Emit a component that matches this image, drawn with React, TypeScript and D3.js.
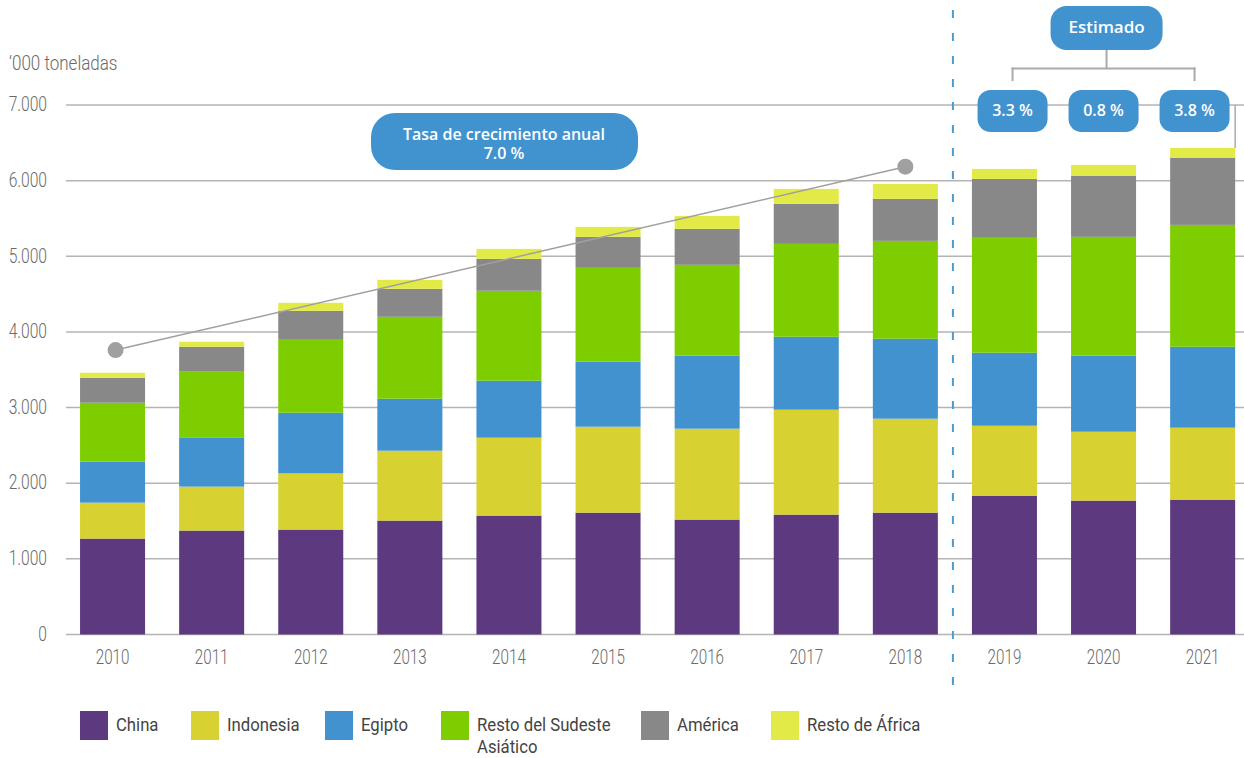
import React from "react";
import * as d3 from "d3";

const years = ["2010", "2011", "2012", "2013", "2014", "2015", "2016", "2017", "2018", "2019", "2020", "2021"];
const china = [1268, 1374, 1387, 1506, 1572, 1611, 1519, 1585, 1611, 1836, 1770, 1783];
const indonesia = [475, 581, 743, 924, 1030, 1136, 1202, 1387, 1242, 924, 911, 951];
const egipto = [542, 651, 802, 687, 753, 859, 964, 964, 1057, 965, 1004, 1070];
const sudeste = [779, 868, 964, 1083, 1189, 1241, 1202, 1228, 1294, 1519, 1572, 1611];
const america = [330, 330, 383, 370, 422, 410, 475, 529, 555, 779, 805, 885];
const africa = [66, 66, 106, 119, 132, 132, 172, 198, 198, 132, 146, 132];

const seriesKeys = ["china", "indonesia", "egipto", "sudeste", "america", "africa"];
const seriesLabels = ["China", "Indonesia", "Egipto", "Resto del Sudeste\nAsiático", "América", "Resto de África"];
const seriesColors = ["#5d3a7f", "#d8d132", "#4192cf", "#7dcd00", "#888888", "#e2ea47"];

const yTicks = [0, 1000, 2000, 3000, 4000, 5000, 6000, 7000];
const trendYears = ["2010", "2018"];
const trendValues = [3760, 6185];
const growthRateLabel = ["Tasa de crecimiento anual", "7.0 %"];
const estimatedYears = ["2019", "2020", "2021"];
const estimatedRates = ["3.3 %", "0.8 %", "3.8 %"];

const W = 1244;
const H = 758;
const condensed = "'Roboto', 'DejaVu Sans', sans-serif";
const bubbleFont = "'Open Sans', 'Noto Sans', sans-serif";
const blue = "#4193cf";

const locale = d3.formatLocale({ decimal: ",", thousands: ".", grouping: [3], currency: ["", ""] });
const fmt = locale.format(",d");

function CText(props: {
  x: number;
  y: number;
  sx?: number;
  anchor?: string;
  baseline?: string;
  size: number;
  fill?: string;
  weight?: number;
  children: React.ReactNode;
}) {
  const { x, y, sx = 0.8, anchor = "start", baseline = "auto", size, fill = "#666", weight = 300, children } = props;
  return (
    <text
      transform={`translate(${x},${y}) scale(${sx},1)`}
      textAnchor={anchor}
      dominantBaseline={baseline}
      fontFamily={condensed}
      fontSize={size}
      fontWeight={weight}
      fill={fill}
    >
      {children}
    </text>
  );
}

export default function App() {
  const rows = years.map((y, i) => ({
    year: y,
    china: china[i],
    indonesia: indonesia[i],
    egipto: egipto[i],
    sudeste: sudeste[i],
    america: america[i],
    africa: africa[i],
  }));
  const stacked = d3.stack<any>().keys(seriesKeys)(rows);

  const x = d3.scaleBand().domain(years).range([63, 1252.2]).paddingInner(0.344).paddingOuter(0.172);
  const y = d3.scaleLinear().domain([0, 7000]).range([634.5, 105]);
  const cx = (yr: string) => (x(yr) as number) + x.bandwidth() / 2;

  const totals = rows.map((r) => seriesKeys.reduce((s, k) => s + (r as any)[k], 0));
  const lastYear = years[years.length - 1];
  const dividerX = ((x("2018") as number) + x.bandwidth() + (x("2019") as number)) / 2 - 2;

  const midEst = cx(estimatedYears[1]);
  const bubbleStep = 91;

  return (
    <svg width={W} height={H} style={{ position: "absolute", left: 0, top: 0, background: "#fff" }}>
      {/* y label */}
      <CText x={9} y={70} size={20} sx={0.85} fill="#6a6a6a">
        ‘000 toneladas
      </CText>

      {/* gridlines */}
      {yTicks.map((t) => (
        <g key={t}>
          <line x1={66} x2={W} y1={y(t)} y2={y(t)} stroke="#b4b4b4" strokeWidth={1.5} />
          <CText x={47} y={y(t) + 1} anchor="end" baseline="middle" size={20} sx={0.78} fill="#6a6a6a">
            {fmt(t)}
          </CText>
        </g>
      ))}

      {/* right edge line */}
      <line
        x1={(x(lastYear) as number) + x.bandwidth()}
        x2={(x(lastYear) as number) + x.bandwidth()}
        y1={y(7000)}
        y2={y(totals[totals.length - 1])}
        stroke="#aaa"
        strokeWidth={1.5}
      />

      {/* bars */}
      {stacked.map((s, si) => (
        <g key={s.key} fill={seriesColors[si]}>
          {s.map((d: any) => (
            <rect
              key={d.data.year}
              x={x(d.data.year)}
              width={x.bandwidth()}
              y={y(d[1])}
              height={y(d[0]) - y(d[1])}
            />
          ))}
        </g>
      ))}

      {/* x labels */}
      {years.map((yr) => (
        <CText key={yr} x={cx(yr)} y={659} anchor="middle" baseline="middle" size={20} sx={0.76} fill="#6a6a6a">
          {yr}
        </CText>
      ))}

      {/* trend line */}
      <line
        x1={cx(trendYears[0]) + 3}
        y1={y(trendValues[0])}
        x2={cx(trendYears[1])}
        y2={y(trendValues[1])}
        stroke="#a0a0a0"
        strokeWidth={1.5}
      />
      {trendYears.map((yr, i) => (
        <circle key={yr} cx={cx(yr) + (i === 0 ? 3 : 0)} cy={y(trendValues[i])} r={8} fill="#a0a0a0" />
      ))}

      {/* growth bubble */}
      <rect x={371} y={113} width={267} height={57} rx={24} ry={24} fill={blue} />
      <text x={504} y={140} textAnchor="middle" fontFamily={bubbleFont} fontWeight={600} fontSize={16} fill="#fff">
        {growthRateLabel[0]}
      </text>
      <text x={504} y={158.5} textAnchor="middle" fontFamily={bubbleFont} fontWeight={600} fontSize={16} fill="#fff">
        {growthRateLabel[1]}
      </text>

      {/* divider */}
      <line x1={dividerX} x2={dividerX} y1={10} y2={686} stroke="#4a9ad4" strokeWidth={2} strokeDasharray="8 15" />

      {/* Estimado bracket */}
      <line x1={midEst + 3} x2={midEst + 3} y1={48} y2={68.5} stroke="#aaa" strokeWidth={2} />
      <line x1={midEst - bubbleStep - 1} x2={midEst + bubbleStep + 1} y1={68.5} y2={68.5} stroke="#aaa" strokeWidth={2} />
      <line x1={midEst - bubbleStep} x2={midEst - bubbleStep} y1={67.5} y2={81} stroke="#aaa" strokeWidth={2} />
      <line x1={midEst + bubbleStep} x2={midEst + bubbleStep} y1={67.5} y2={81} stroke="#aaa" strokeWidth={2} />

      <rect x={midEst + 3 - 56} y={6} width={112} height={44} rx={16} ry={16} fill={blue} />
      <text x={midEst + 3} y={28} textAnchor="middle" dominantBaseline="middle" fontFamily={bubbleFont} fontWeight={600} fontSize={17} fill="#fff">
        Estimado
      </text>

      {estimatedRates.map((r, i) => {
        const bx = midEst + (i - 1) * bubbleStep;
        return (
          <g key={r}>
            <rect x={bx - 35} y={90} width={70} height={42} rx={13} ry={13} fill={blue} />
            <text x={bx} y={112} textAnchor="middle" dominantBaseline="middle" fontFamily={bubbleFont} fontWeight={600} fontSize={16} fill="#fff">
              {r}
            </text>
          </g>
        );
      })}

      {/* legend */}
      {seriesLabels.map((lab, i) => {
        const lx = [80, 191, 325, 441, 641, 771][i];
        const lines = lab.split("\n");
        return (
          <g key={lab}>
            <rect x={lx} y={711} width={28} height={29} fill={seriesColors[i]} />
            {lines.map((ln, j) => (
              <CText key={j} x={lx + 36} y={731 + j * 22} size={19} sx={0.88} weight={400} fill="#444">
                {ln}
              </CText>
            ))}
          </g>
        );
      })}
    </svg>
  );
}
